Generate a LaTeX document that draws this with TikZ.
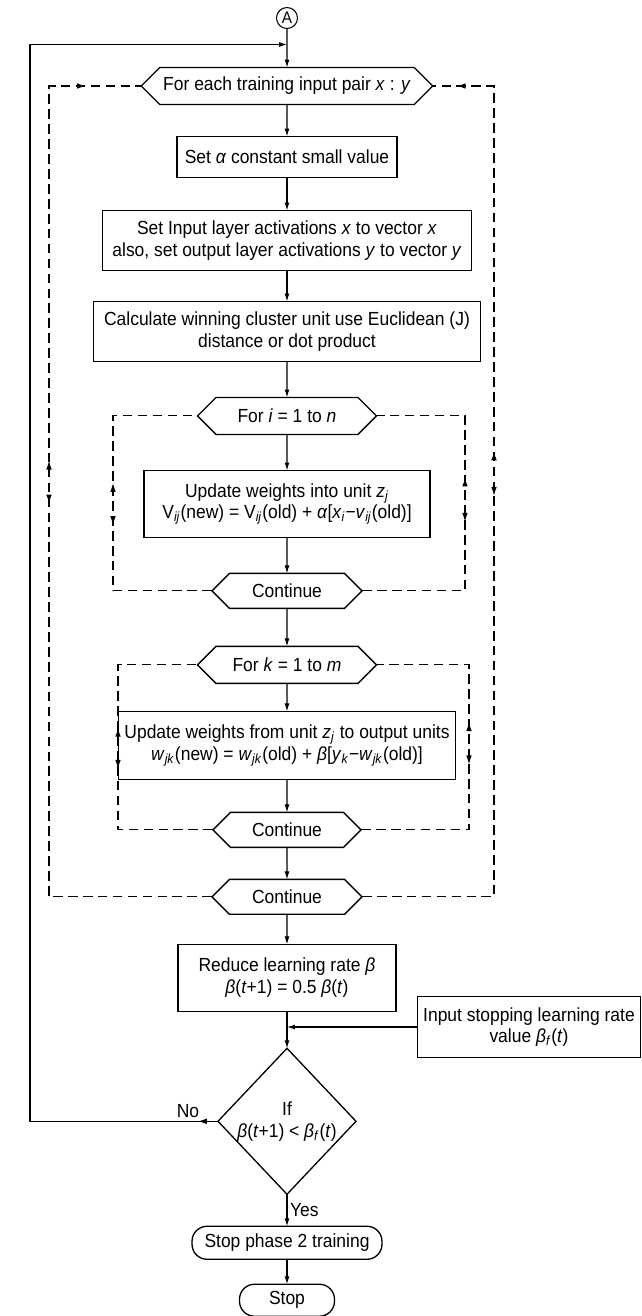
\documentclass[tikz,border=0pt]{standalone}
\usepackage{fontspec}
\setmainfont{Liberation Sans}[FakeStretch=0.92]
\usetikzlibrary{positioning,arrows.meta,shapes.geometric,shapes.symbols,decorations.markings}
\newcommand{\iv}[1]{\textit{#1}}
\newcommand{\sbi}[1]{\textsubscript{\textit{#1}}}
\tikzset{
    every node/.style={font=\fontsize{10.8}{12.4}\selectfont},
    box/.style={draw,rectangle,line width=0.75pt,align=center,inner sep=2pt,outer sep=0pt},
    hexa/.style={draw,signal,signal to=east and west,line width=0.75pt,inner sep=2pt,outer sep=0pt,minimum height=0.74cm},
    term/.style={draw,rectangle,rounded corners=0.3cm,line width=0.75pt,inner sep=2pt,outer sep=0pt},
    conn/.style={draw,circle,line width=0.6pt,inner sep=0pt,outer sep=0pt,minimum size=0.42cm,font=\fontsize{9.5}{9.5}\selectfont},
    flow/.style={draw,line width=0.6pt,-{Latex[length=4.5pt,width=2.8pt]}},
    back/.style={draw,line width=0.6pt,dash pattern=on 5.5pt off 3pt},
    fwd/.style={postaction={decorate,decoration={markings,mark=at position #1 with {\arrow{Latex[length=5pt,width=3.2pt]}}}}},
    rev/.style={postaction={decorate,decoration={markings,mark=at position #1 with {\arrowreversed{Latex[length=5pt,width=3.2pt]}}}}},
}

\begin{document}
\begin{tikzpicture}[x=0.02cm,y=-0.02cm]
    \useasboundingbox (0,0) rectangle (642,1316);

    % main column
    \node[conn] (A) at (287,18) {A};
    \node[hexa,below=0.78cm of A,minimum width=5.6cm] (h1) {For each training input pair \iv{x} : \iv{y}};
    \node[box,below=0.64cm of h1,minimum width=4.4cm,minimum height=0.82cm] (sa) {Set \iv{α} constant small value};
    \node[box,below=0.66cm of sa,minimum width=7.38cm,minimum height=1.2cm] (act) {Set Input layer activations \iv{x} to vector \iv{x}\\also, set output layer activations \iv{y} to vector \iv{y}};
    \node[box,below=0.62cm of act,minimum width=7.74cm,minimum height=1.2cm] (win) {Calculate winning cluster unit use Euclidean (J)\\distance or dot product};
    \node[hexa,below=0.72cm of win,minimum width=3.58cm] (hi) {For \iv{i} = 1 to \iv{n}};
    \node[box,below=0.72cm of hi,minimum width=5.72cm,minimum height=1.34cm] (uv) {Update weights into unit \iv{z}\sbi{j}\\V\sbi{ij}(new) = V\sbi{ij}(old) + \iv{α}[\iv{x}\sbi{i}−\iv{v}\sbi{ij}(old)]};
    \node[hexa,below=0.72cm of uv,minimum width=3cm,minimum height=0.7cm] (c1) {Continue};
    \node[hexa,below=0.76cm of c1,minimum width=3.58cm] (hk) {For \iv{k} = 1 to \iv{m}};
    \node[box,below=0.56cm of hk,minimum width=6.74cm,minimum height=1.36cm] (uw) {Update weights from unit \iv{z}\sbi{j} to output units\\\iv{w}\sbi{jk}(new) = \iv{w}\sbi{jk}(old) + \iv{β}[\iv{y}\sbi{k}−\iv{w}\sbi{jk}(old)]};
    \node[hexa,below=0.66cm of uw,minimum width=2.96cm,minimum height=0.7cm] (c2) {Continue};
    \node[hexa,below=0.64cm of c2,minimum width=3cm,minimum height=0.7cm] (c3) {Continue};
    \node[box,below=0.6cm of c3,minimum width=4.36cm,minimum height=1.34cm] (red) {Reduce learning rate \iv{β}\\\iv{β}(\iv{t}+1) = 0.5 \iv{β}(\iv{t})};
    \node[box,minimum width=4.46cm,minimum height=1.22cm] (inp) at (529,1027) {Input stopping learning rate\\value \iv{β}\sbi{f}(\iv{t})};
    \node[draw,diamond,aspect=0.95,line width=0.75pt,inner sep=-3pt,outer sep=0pt,align=center,minimum width=2.76cm,minimum height=2.92cm,below=0.74cm of red] (dia) {If\\\iv{β}(\iv{t}+1) < \iv{β}\sbi{f}(\iv{t})};
    \node[term,below=0.64cm of dia,minimum width=3.8cm,minimum height=0.66cm] (st2) {Stop phase 2 training};
    \node[term,below=0.5cm of st2,minimum width=1.9cm,minimum height=0.64cm] (st) {Stop};

    % helper points
    \coordinate[below=0.32cm of A] (jt);
    \coordinate (ji) at (inp.west -| dia.north);
    \coordinate (sL) at (30,0);
    \coordinate (oL) at (49,0);
    \coordinate (oR) at (494,0);
    \coordinate (aL) at (113,0);
    \coordinate (aR) at (465,0);
    \coordinate (bL) at (118,0);
    \coordinate (bR) at (469,0);

    \draw[flow] (A) -- (h1);
    \draw[flow] (h1) -- (sa);
    \draw[flow] (sa) -- (act);
    \draw[flow] (act) -- (win);
    \draw[flow] (win) -- (hi);
    \draw[flow] (hi) -- (uv);
    \draw[flow] (uv) -- (c1);
    \draw[flow] (c1) -- (hk);
    \draw[flow] (hk) -- (uw);
    \draw[flow] (uw) -- (c2);
    \draw[flow] (c2) -- (c3);
    \draw[flow] (c3) -- (red);
    \draw[flow] (red) -- (dia);
    \draw[flow] (inp.west) -- (ji);
    \draw[flow] (dia) -- node[right,inner sep=1.5pt] {Yes} (st2);
    \draw[flow] (st2) -- (st);
    \draw[flow,fwd=0.4cm] (dia.west) -- node[above,pos=0.16,inner sep=2pt] {No} (dia.west -| sL) -- (jt -| sL) -- (jt);

    % dashed loops
    \draw[back,rev=0.522,fwd=0.562,fwd=0.948] (c3.west) -- (c3.west -| oL) -- (h1.west -| oL) -- (h1.west);
    \draw[back,rev=0.531,fwd=0.575,fwd=0.976] (c3.east) -- (c3.east -| oR) -- (h1.east -| oR) -- (h1.east);
    \draw[back,rev=0.46,fwd=0.577] (c1.west) -- (c1.west -| aL) -- (hi.west -| aL) -- (hi.west);
    \draw[back,rev=0.47,fwd=0.59] (c1.east) -- (c1.east -| aR) -- (hi.east -| aR) -- (hi.east);
    \draw[back,rev=0.46,fwd=0.58] (c2.west) -- (c2.west -| bL) -- (hk.west -| bL) -- (hk.west);
    \draw[back,rev=0.475,fwd=0.59] (c2.east) -- (c2.east -| bR) -- (hk.east -| bR) -- (hk.east);
\end{tikzpicture}
\end{document}
